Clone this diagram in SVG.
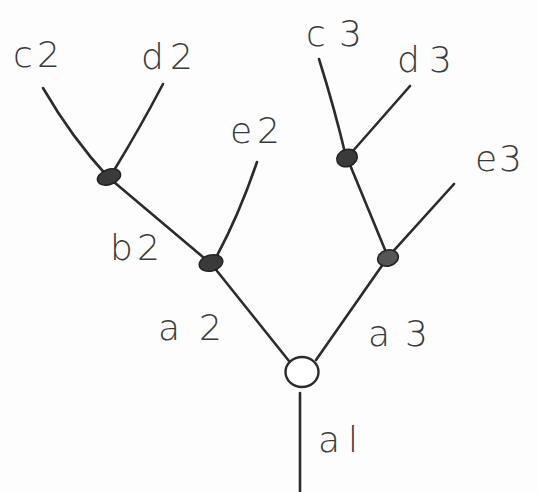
<svg xmlns="http://www.w3.org/2000/svg" width="538" height="492" viewBox="0 0 538 492">
<style>
.e{stroke:#2b2b2b;stroke-width:2.6;fill:none;stroke-linecap:round}
.n{fill:#3a3a3a;stroke:#222;stroke-width:1.5}
.r{fill:#fff;stroke:#2b2b2b;stroke-width:2.4}
text{font-family:"DejaVu Sans","Liberation Sans",sans-serif;font-size:36px;fill:#3a3a3a;font-weight:300}
</style>
<rect width="538" height="492" fill="#fdfdfd"/>
<g id="connectors">
<path class="e" d="M43,88 Q72,138 108,177"/>
<path class="e" d="M163,84 Q140,128 113,172"/>
<path class="e" d="M108,177 L210,263"/>
<path class="e" d="M257,162 Q238,218 213,263"/>
<path class="e" d="M213,266 L289,361"/>
<path class="e" d="M319,59 Q335,110 346,157"/>
<path class="e" d="M410,86 Q380,120 352,152"/>
<path class="e" d="M348,160 L388,257"/>
<path class="e" d="M454,184 L388,257"/>
<path class="e" d="M388,257 L316,360"/>
<path class="e" d="M300,393 L300,492"/>
</g>
<g id="c2"><text x="13" y="67" textLength="47" lengthAdjust="spacing">c2</text></g>
<g id="d2"><text x="141" y="69" textLength="52" lengthAdjust="spacing">d2</text></g>
<g id="e2"><text x="230" y="143" textLength="50" lengthAdjust="spacing">e2</text></g>
<g id="b2"><text x="110" y="260" textLength="50" lengthAdjust="spacing">b2</text></g>
<g id="a2"><text x="158" y="340" textLength="64" lengthAdjust="spacing">a2</text></g>
<g id="a3"><text x="368" y="346" textLength="60" lengthAdjust="spacing">a3</text></g>
<g id="c3"><text x="306" y="46" textLength="56" lengthAdjust="spacing">c3</text></g>
<g id="d3"><text x="397" y="72" textLength="55" lengthAdjust="spacing">d3</text></g>
<g id="e3"><text x="475" y="171" textLength="47" lengthAdjust="spacing">e3</text></g>
<g id="a1"><text x="318" y="452" textLength="40" lengthAdjust="spacing">al</text></g>
<g id="node-cd2"><ellipse class="n" cx="109" cy="177" rx="12" ry="7.5" transform="rotate(-20 109 177)"/></g>
<g id="node-b2"><ellipse class="n" cx="211" cy="263" rx="12" ry="8" transform="rotate(-15 211 263)"/></g>
<g id="node-cd3"><ellipse class="n" cx="347" cy="158" rx="10.5" ry="8.5" transform="rotate(-20 347 158)"/></g>
<g id="node-b3"><ellipse class="n" cx="388" cy="258" rx="10.5" ry="8" transform="rotate(-15 388 258)" style="fill:#555"/></g>
<g id="root"><ellipse class="r" cx="302" cy="372" rx="16.5" ry="15"/></g>
</svg>
